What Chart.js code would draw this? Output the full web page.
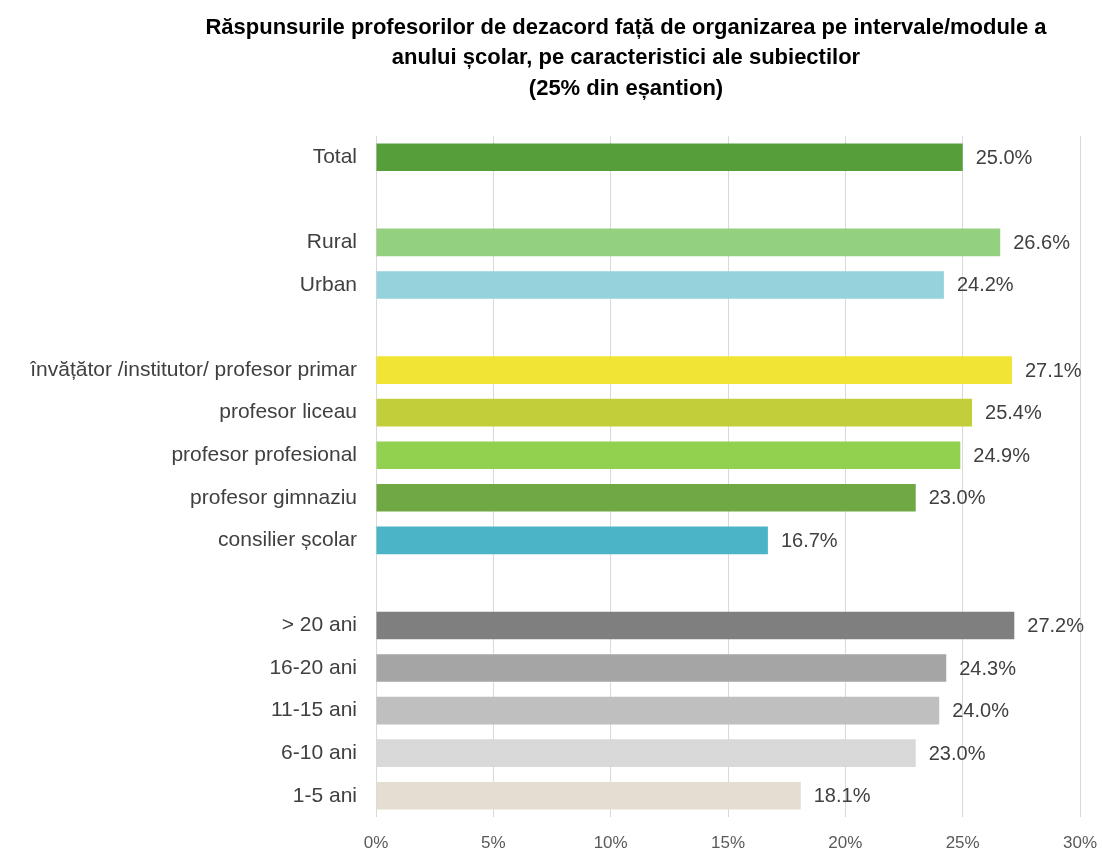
<!DOCTYPE html>
<html>
<head>
<meta charset="utf-8">
<script src="https://cdn.jsdelivr.net/npm/chart.js@4"></script>
<style>
    body { margin: 0; background: #fff; }
    #wrap { width: 1102px; height: 852px; }
</style>
</head>
<body>
<div id="wrap"><canvas id="chart"></canvas></div>
<script>
// Chart data (empty labels are the gaps between groups)
const titleLines = [
    'Răspunsurile profesorilor de dezacord față de organizarea pe intervale/module a',
    'anului școlar, pe caracteristici ale subiectilor',
    '(25% din eșantion)'
];
const categories = [
    'Total', '',
    'Rural', 'Urban', '',
    'învățător /institutor/ profesor primar', 'profesor liceau', 'profesor profesional', 'profesor gimnaziu', 'consilier școlar', '',
    '> 20 ani', '16-20 ani', '11-15 ani', '6-10 ani', '1-5 ani'
];
const values = [
    25.0, null,
    26.6, 24.2, null,
    27.1, 25.4, 24.9, 23.0, 16.7, null,
    27.2, 24.3, 24.0, 23.0, 18.1
];
const barColors = [
    '#559e3a', null,
    '#93d07f', '#95d3dc', null,
    '#f2e435', '#c3cf3a', '#92d050', '#70a843', '#4bb4c6', null,
    '#7f7f7f', '#a5a5a5', '#bfbfbf', '#d9d9d9', '#e4ddd2'
];
const xTicks = [0, 5, 10, 15, 20, 25, 30];

const FONT = "'Liberation Sans', Arial, sans-serif";

// Title drawn by hand so it can sit centred over the plot like the original
const titleBlock = {
    id: 'titleBlock',
    afterDraw(chart) {
        const ctx = chart.ctx;
        ctx.save();
        ctx.font = 'bold 22px ' + FONT;
        ctx.fillStyle = '#000';
        ctx.textAlign = 'center';
        ctx.textBaseline = 'middle';
        const ys = [28, 58, 89];
        titleLines.forEach((line, i) => ctx.fillText(line, 626, ys[i]));
        ctx.restore();
    }
};

// Draw value labels at the end of each bar
const valueLabels = {
    id: 'valueLabels',
    afterDatasetsDraw(chart) {
        const ctx = chart.ctx;
        const meta = chart.getDatasetMeta(0);
        ctx.save();
        ctx.font = '20px ' + FONT;
        ctx.fillStyle = '#404040';
        ctx.textAlign = 'left';
        ctx.textBaseline = 'middle';
        meta.data.forEach((bar, i) => {
            const v = values[i];
            if (v === null) return;
            ctx.fillText(v.toFixed(1) + '%', bar.x + 13, bar.y + 1);
        });
        ctx.restore();
    }
};

new Chart(document.getElementById('chart'), {
    type: 'bar',
    data: {
        labels: categories,
        datasets: [{
            data: values,
            backgroundColor: barColors,
            borderWidth: 0,
            categoryPercentage: 1,
            barPercentage: 0.65
        }]
    },
    options: {
        indexAxis: 'y',
        responsive: true,
        maintainAspectRatio: false,
        animation: false,
        layout: { padding: { left: 0, right: 22, top: 136, bottom: 0 } },
        plugins: {
            legend: { display: false },
            tooltip: { enabled: false },
            title: { display: false }
        },
        scales: {
            x: {
                min: 0,
                max: 30,
                afterBuildTicks(scale) {
                    scale.ticks = xTicks.map(v => ({ value: v }));
                },
                afterFit(scale) {
                    scale.height = 35;
                    scale.paddingLeft = 0;
                    scale.paddingRight = 0;
                },
                grid: { color: '#d9d9d9', drawTicks: false },
                border: { display: false },
                ticks: {
                    padding: 16,
                    color: '#595959',
                    font: { family: FONT, size: 17 },
                    callback: v => v + '%'
                }
            },
            y: {
                afterFit(scale) { scale.width = 376; },
                grid: { display: false },
                border: { display: false },
                ticks: {
                    padding: 11,
                    color: '#404040',
                    font: { family: FONT, size: 21 },
                    autoSkip: false
                }
            }
        }
    },
    plugins: [titleBlock, valueLabels]
});
</script>
</body>
</html>
